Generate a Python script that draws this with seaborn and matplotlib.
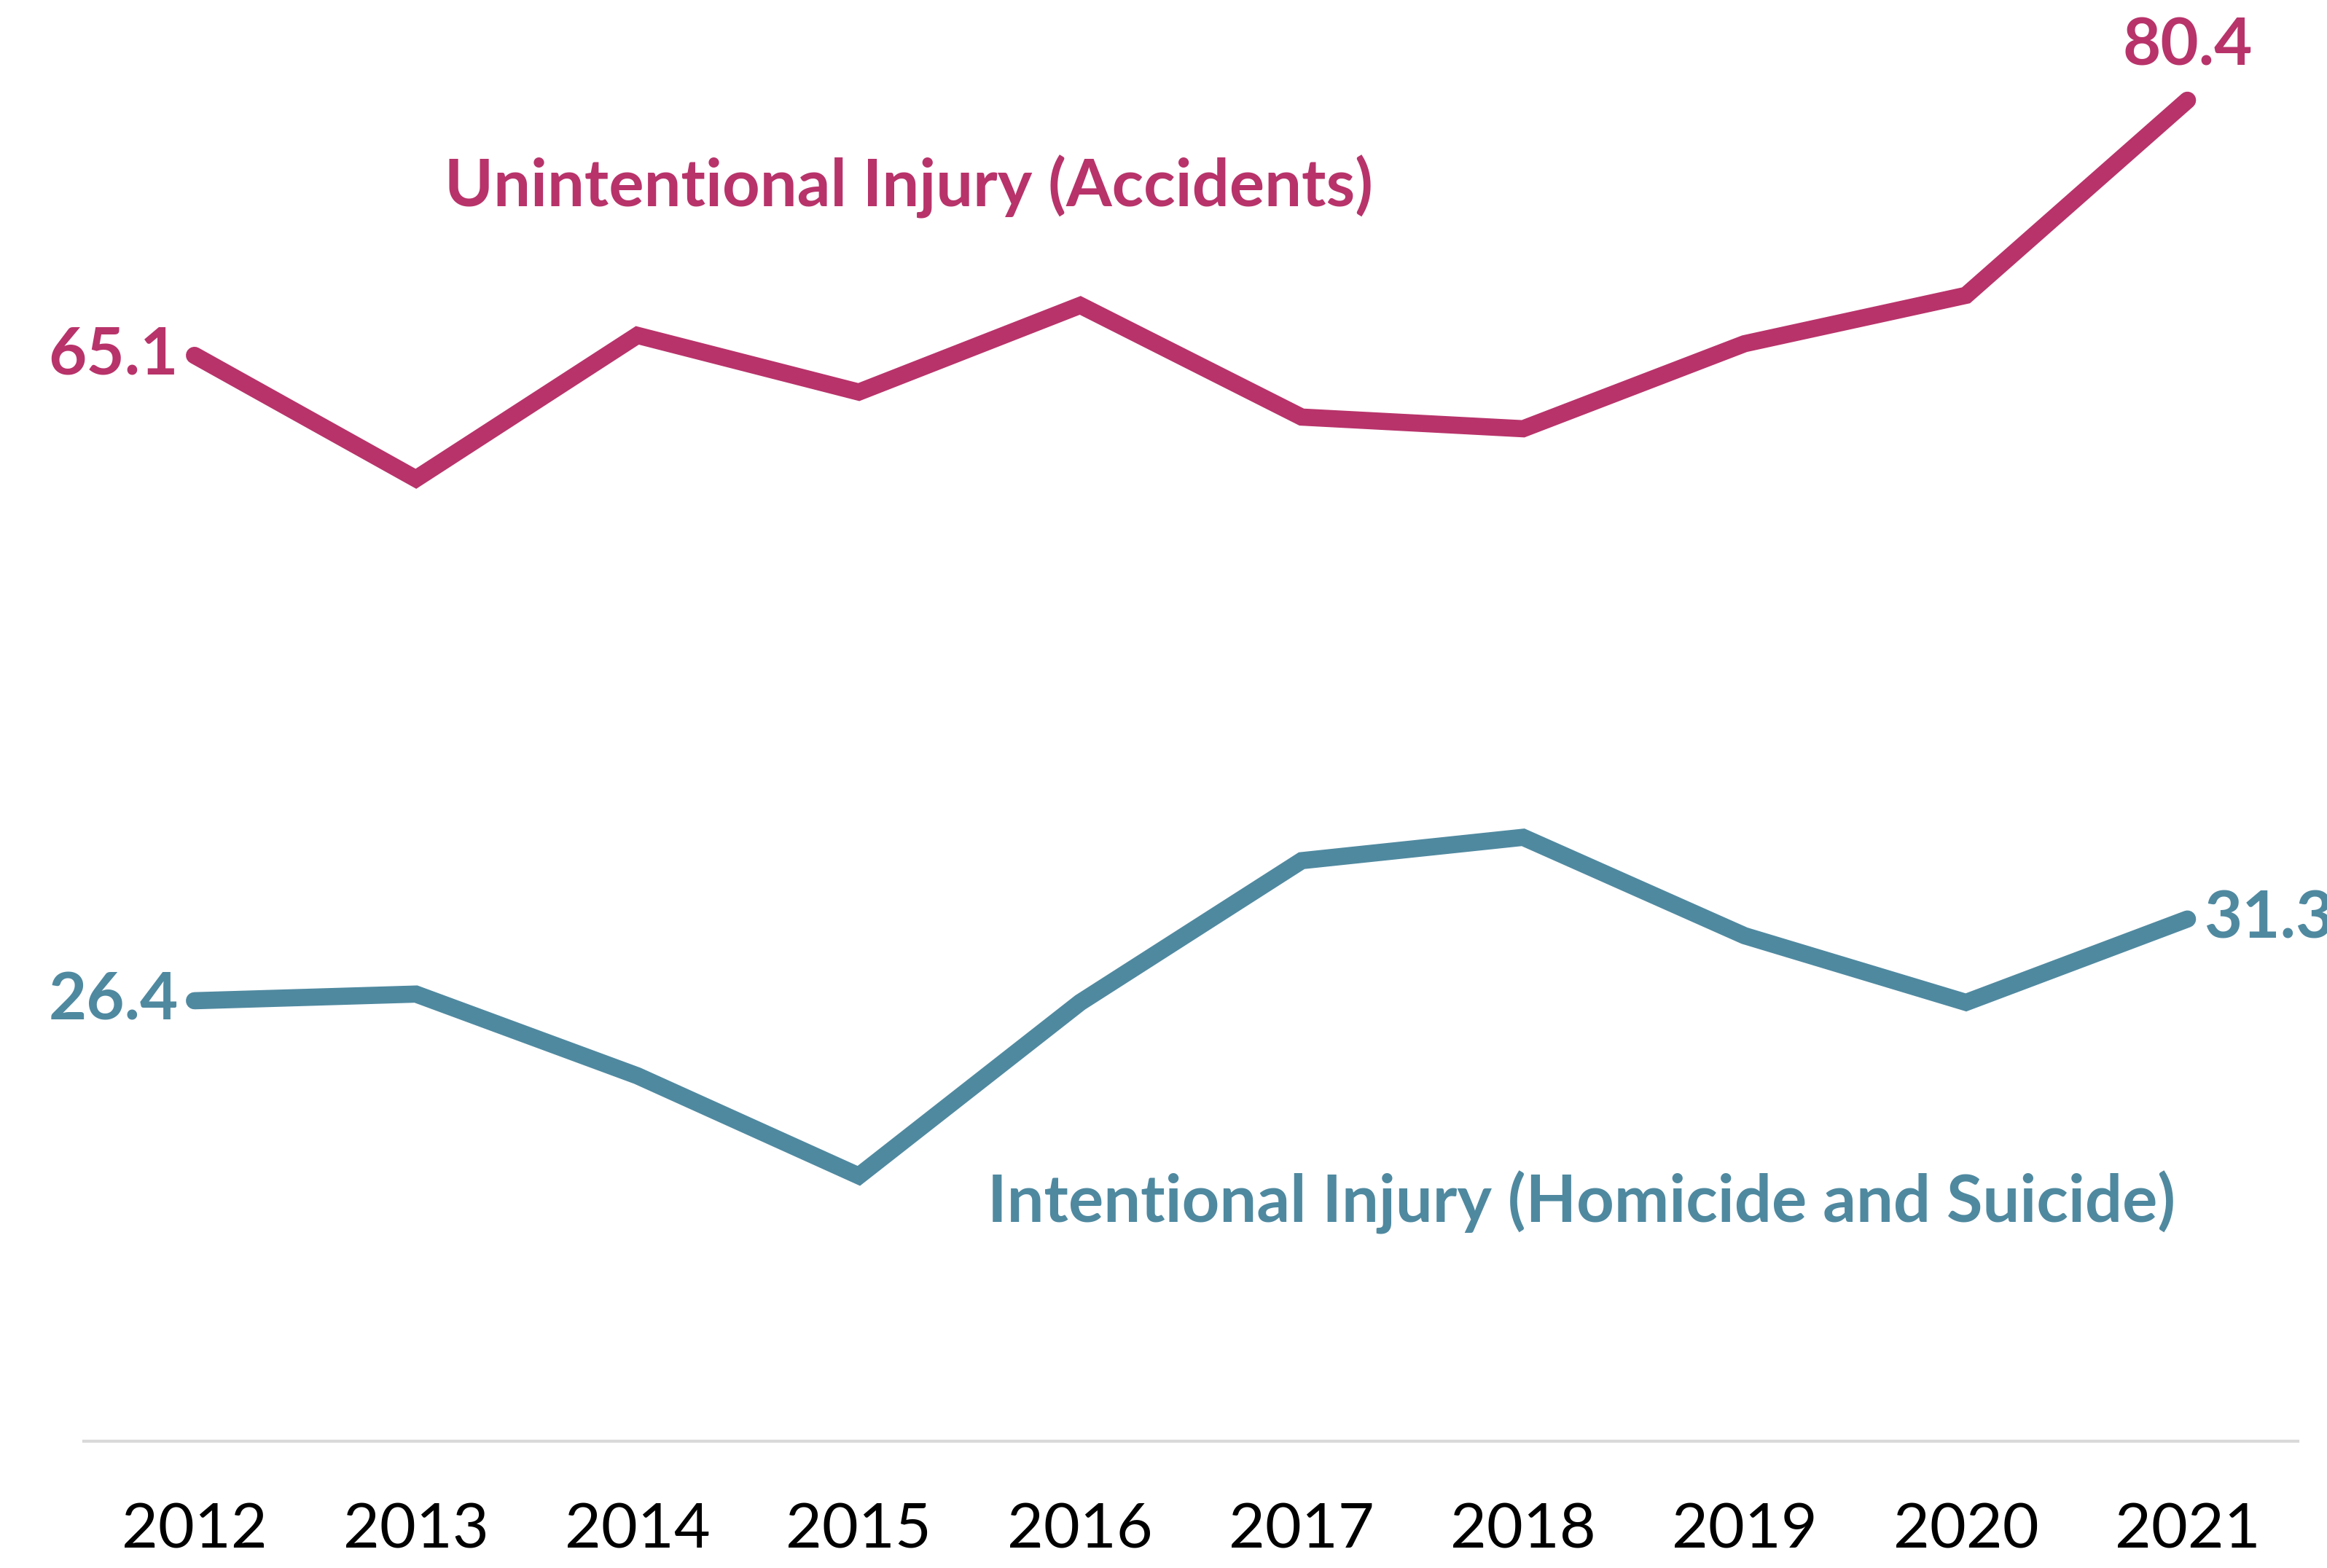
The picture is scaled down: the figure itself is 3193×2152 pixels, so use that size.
import pandas as pd
import seaborn as sns
import matplotlib.pyplot as plt

# Rates by year
years = [2012, 2013, 2014, 2015, 2016, 2017, 2018, 2019, 2020, 2021]
unintentional = [65.1, 57.7, 66.3, 62.9, 68.1, 61.4, 60.7, 65.8, 68.7, 80.4]
intentional = [26.4, 26.8, 21.9, 15.9, 26.3, 34.8, 36.2, 30.3, 26.3, 31.3]

unint_name = 'Unintentional Injury (Accidents)'
int_name = 'Intentional Injury (Homicide and Suicide)'

pink = '#B8336A'
teal = '#4F89A0'

sns.set_theme(style='white')
plt.rcParams['font.family'] = ['Lato', 'DejaVu Sans']

df = pd.DataFrame({'year': years, 'unint': unintentional, 'int': intentional})

fig = plt.figure(figsize=(15.965, 10.76), dpi=200)
ax = fig.add_axes([0.036, 0.081, 0.9516, 0.904])

line_kw = dict(linewidth=8.5, solid_capstyle='round', solid_joinstyle='miter')
sns.lineplot(data=df, x='year', y='unint', color=pink, ax=ax, **line_kw)
sns.lineplot(data=df, x='year', y='int', color=teal, ax=ax, **line_kw)

ax.set_xlim(2011.5, 2021.5)
ax.set_ylim(0, 85)
ax.set_xticks(years)
ax.set_xticklabels([str(y) for y in years], fontsize=31, color='black')
ax.tick_params(axis='x', length=0, pad=30)
ax.set_yticks([])
ax.set_xlabel('')
ax.set_ylabel('')
for side in ['top', 'right', 'left']:
    ax.spines[side].set_visible(False)
ax.spines['bottom'].set_color('#D9D9D9')
ax.spines['bottom'].set_linewidth(1.5)

# end point labels
lab = dict(fontsize=32.5, fontweight='bold')
ax.annotate(f'{unintentional[0]}', (years[0], unintentional[0]), xytext=(-8, 0),
            textcoords='offset points', ha='right', va='center', color=pink, **lab)
ax.annotate(f'{intentional[0]}', (years[0], intentional[0]), xytext=(-8, 0),
            textcoords='offset points', ha='right', va='center', color=teal, **lab)
ax.annotate(f'{unintentional[-1]}', (years[-1], unintentional[-1]), xytext=(0, 12),
            textcoords='offset points', ha='center', va='bottom', color=pink, **lab)
ax.annotate(f'{intentional[-1]}', (years[-1], intentional[-1]), xytext=(8, 0),
            textcoords='offset points', ha='left', va='center', color=teal, **lab)

# series names
ax.text(2013.13, 75.2, unint_name, ha='left', va='center', color=pink, **lab)
ax.text(2015.58, 14.3, int_name, ha='left', va='center', color=teal, **lab)

fig.savefig('out.png', dpi=200)
